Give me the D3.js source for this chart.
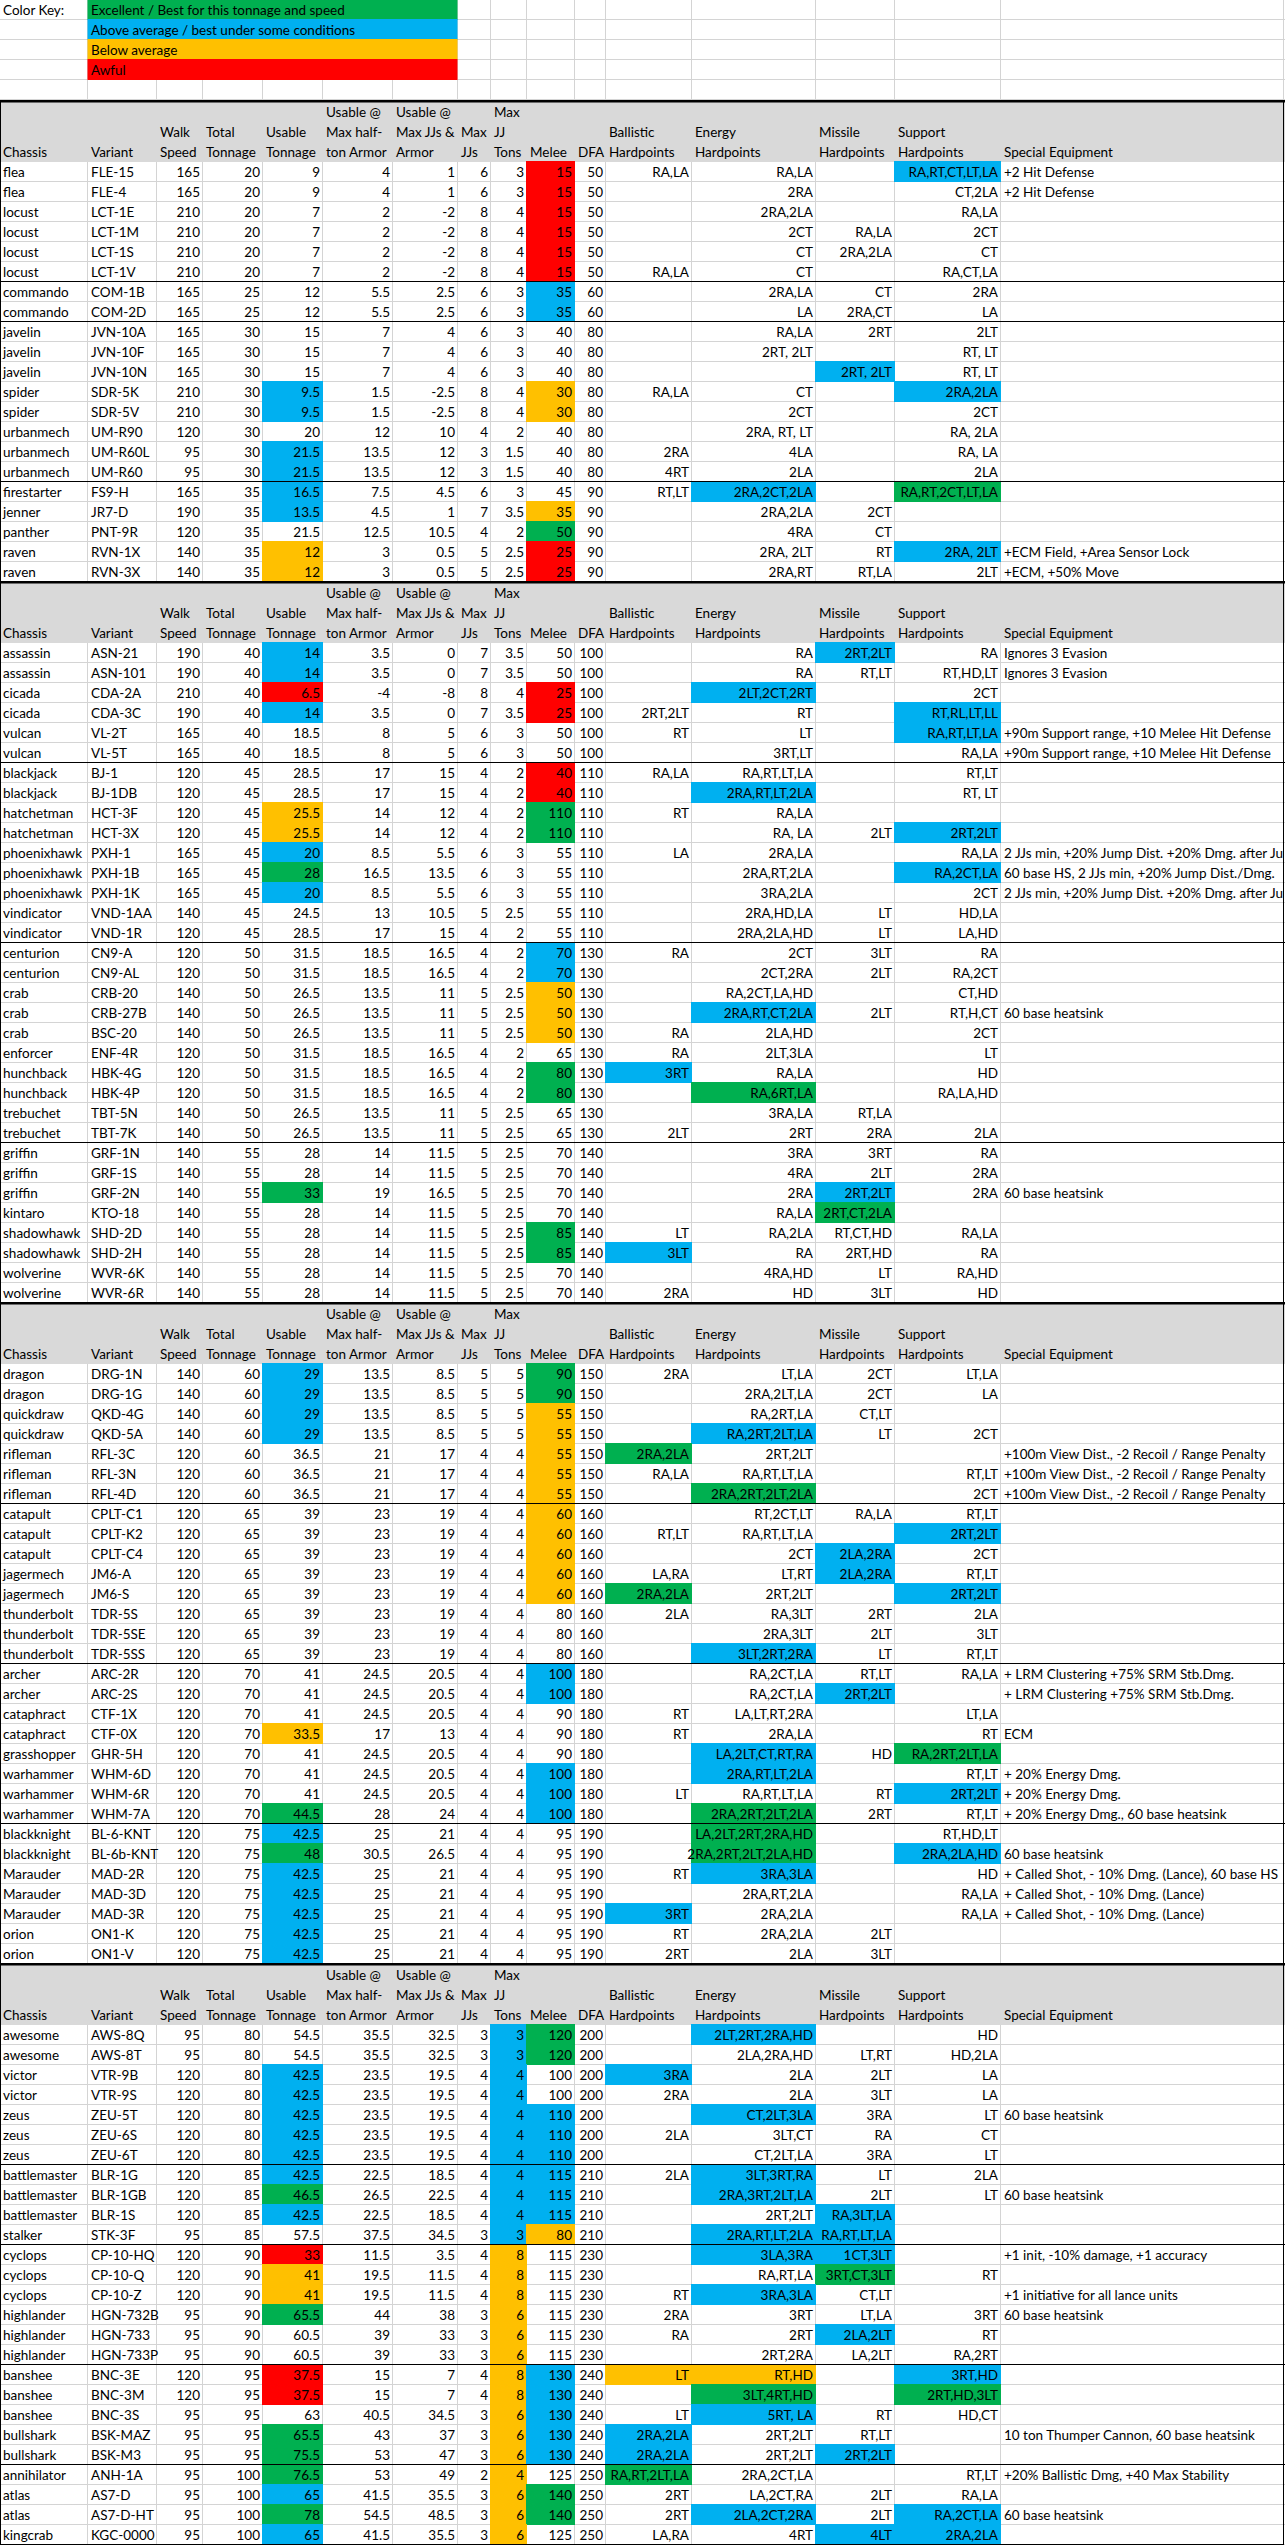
<!DOCTYPE html>
<html>
<head>
<meta charset="utf-8">
<script src="https://cdn.jsdelivr.net/npm/d3@7"></script>
<style>
  body { margin: 0; background: #fff; }
  svg text { font-family: Lato, "Liberation Sans", sans-serif; font-size: 13.5px; fill: #000; }
</style>
</head>
<body>
<div id="sheet"></div>
<script>
// colour key
const keyLevels = ["best", "above", "below", "awful"];
const keyLabels = ["Excellent / Best for this tonnage and speed", "Above average / best under some conditions", "Below average", "Awful"];

// header text, one entry per column, split into wrapped lines
const headerLabels = [
  ["Chassis"], ["Variant"], ["Walk", "Speed"], ["Total", "Tonnage"], ["Usable", "Tonnage"],
  ["Usable @", "Max half-", "ton Armor"], ["Usable @", "Max JJs &", "Armor"], ["Max", "JJs"], ["Max", "JJ", "Tons"],
  ["Melee"], ["DFA"], ["Ballistic", "Hardpoints"], ["Energy", "Hardpoints"], ["Missile", "Hardpoints"],
  ["Support", "Hardpoints"], ["Special Equipment"]
];

// chassis, variant, walk, total t, usable t, usable@armor, usable@JJ&armor, max JJs, JJ tons, melee, DFA,
// ballistic, energy, missile, support, special
const lightMechs = [
  ["flea", "FLE-15", 165, 20, 9, 4, 1, 6, 3, 15, 50, "RA,LA", "RA,LA", "", "RA,RT,CT,LT,LA", "+2 Hit Defense"],
  ["flea", "FLE-4", 165, 20, 9, 4, 1, 6, 3, 15, 50, "", "2RA", "", "CT,2LA", "+2 Hit Defense"],
  ["locust", "LCT-1E", 210, 20, 7, 2, -2, 8, 4, 15, 50, "", "2RA,2LA", "", "RA,LA", ""],
  ["locust", "LCT-1M", 210, 20, 7, 2, -2, 8, 4, 15, 50, "", "2CT", "RA,LA", "2CT", ""],
  ["locust", "LCT-1S", 210, 20, 7, 2, -2, 8, 4, 15, 50, "", "CT", "2RA,2LA", "CT", ""],
  ["locust", "LCT-1V", 210, 20, 7, 2, -2, 8, 4, 15, 50, "RA,LA", "CT", "", "RA,CT,LA", ""],
  ["commando", "COM-1B", 165, 25, 12, 5.5, 2.5, 6, 3, 35, 60, "", "2RA,LA", "CT", "2RA", ""],
  ["commando", "COM-2D", 165, 25, 12, 5.5, 2.5, 6, 3, 35, 60, "", "LA", "2RA,CT", "LA", ""],
  ["javelin", "JVN-10A", 165, 30, 15, 7, 4, 6, 3, 40, 80, "", "RA,LA", "2RT", "2LT", ""],
  ["javelin", "JVN-10F", 165, 30, 15, 7, 4, 6, 3, 40, 80, "", "2RT, 2LT", "", "RT, LT", ""],
  ["javelin", "JVN-10N", 165, 30, 15, 7, 4, 6, 3, 40, 80, "", "", "2RT, 2LT", "RT, LT", ""],
  ["spider", "SDR-5K", 210, 30, 9.5, 1.5, -2.5, 8, 4, 30, 80, "RA,LA", "CT", "", "2RA,2LA", ""],
  ["spider", "SDR-5V", 210, 30, 9.5, 1.5, -2.5, 8, 4, 30, 80, "", "2CT", "", "2CT", ""],
  ["urbanmech", "UM-R90", 120, 30, 20, 12, 10, 4, 2, 40, 80, "", "2RA, RT, LT", "", "RA, 2LA", ""],
  ["urbanmech", "UM-R60L", 95, 30, 21.5, 13.5, 12, 3, 1.5, 40, 80, "2RA", "4LA", "", "RA, LA", ""],
  ["urbanmech", "UM-R60", 95, 30, 21.5, 13.5, 12, 3, 1.5, 40, 80, "4RT", "2LA", "", "2LA", ""],
  ["firestarter", "FS9-H", 165, 35, 16.5, 7.5, 4.5, 6, 3, 45, 90, "RT,LT", "2RA,2CT,2LA", "", "RA,RT,2CT,LT,LA", ""],
  ["jenner", "JR7-D", 190, 35, 13.5, 4.5, 1, 7, 3.5, 35, 90, "", "2RA,2LA", "2CT", "", ""],
  ["panther", "PNT-9R", 120, 35, 21.5, 12.5, 10.5, 4, 2, 50, 90, "", "4RA", "CT", "", ""],
  ["raven", "RVN-1X", 140, 35, 12, 3, 0.5, 5, 2.5, 25, 90, "", "2RA, 2LT", "RT", "2RA, 2LT", "+ECM Field, +Area Sensor Lock"],
  ["raven", "RVN-3X", 140, 35, 12, 3, 0.5, 5, 2.5, 25, 90, "", "2RA,RT", "RT,LA", "2LT", "+ECM, +50% Move"]
];

const mediumMechs = [
  ["assassin", "ASN-21", 190, 40, 14, 3.5, 0, 7, 3.5, 50, 100, "", "RA", "2RT,2LT", "RA", "Ignores 3 Evasion"],
  ["assassin", "ASN-101", 190, 40, 14, 3.5, 0, 7, 3.5, 50, 100, "", "RA", "RT,LT", "RT,HD,LT", "Ignores 3 Evasion"],
  ["cicada", "CDA-2A", 210, 40, 6.5, -4, -8, 8, 4, 25, 100, "", "2LT,2CT,2RT", "", "2CT", ""],
  ["cicada", "CDA-3C", 190, 40, 14, 3.5, 0, 7, 3.5, 25, 100, "2RT,2LT", "RT", "", "RT,RL,LT,LL", ""],
  ["vulcan", "VL-2T", 165, 40, 18.5, 8, 5, 6, 3, 50, 100, "RT", "LT", "", "RA,RT,LT,LA", "+90m Support range, +10 Melee Hit Defense"],
  ["vulcan", "VL-5T", 165, 40, 18.5, 8, 5, 6, 3, 50, 100, "", "3RT,LT", "", "RA,LA", "+90m Support range, +10 Melee Hit Defense"],
  ["blackjack", "BJ-1", 120, 45, 28.5, 17, 15, 4, 2, 40, 110, "RA,LA", "RA,RT,LT,LA", "", "RT,LT", ""],
  ["blackjack", "BJ-1DB", 120, 45, 28.5, 17, 15, 4, 2, 40, 110, "", "2RA,RT,LT,2LA", "", "RT, LT", ""],
  ["hatchetman", "HCT-3F", 120, 45, 25.5, 14, 12, 4, 2, 110, 110, "RT", "RA,LA", "", "", ""],
  ["hatchetman", "HCT-3X", 120, 45, 25.5, 14, 12, 4, 2, 110, 110, "", "RA, LA", "2LT", "2RT,2LT", ""],
  ["phoenixhawk", "PXH-1", 165, 45, 20, 8.5, 5.5, 6, 3, 55, 110, "LA", "2RA,LA", "", "RA,LA", "2 JJs min, +20% Jump Dist. +20% Dmg. after Jump"],
  ["phoenixhawk", "PXH-1B", 165, 45, 28, 16.5, 13.5, 6, 3, 55, 110, "", "2RA,RT,2LA", "", "RA,2CT,LA", "60 base HS, 2 JJs min, +20% Jump Dist./Dmg."],
  ["phoenixhawk", "PXH-1K", 165, 45, 20, 8.5, 5.5, 6, 3, 55, 110, "", "3RA,2LA", "", "2CT", "2 JJs min, +20% Jump Dist. +20% Dmg. after Jump"],
  ["vindicator", "VND-1AA", 140, 45, 24.5, 13, 10.5, 5, 2.5, 55, 110, "", "2RA,HD,LA", "LT", "HD,LA", ""],
  ["vindicator", "VND-1R", 120, 45, 28.5, 17, 15, 4, 2, 55, 110, "", "2RA,2LA,HD", "LT", "LA,HD", ""],
  ["centurion", "CN9-A", 120, 50, 31.5, 18.5, 16.5, 4, 2, 70, 130, "RA", "2CT", "3LT", "RA", ""],
  ["centurion", "CN9-AL", 120, 50, 31.5, 18.5, 16.5, 4, 2, 70, 130, "", "2CT,2RA", "2LT", "RA,2CT", ""],
  ["crab", "CRB-20", 140, 50, 26.5, 13.5, 11, 5, 2.5, 50, 130, "", "RA,2CT,LA,HD", "", "CT,HD", ""],
  ["crab", "CRB-27B", 140, 50, 26.5, 13.5, 11, 5, 2.5, 50, 130, "", "2RA,RT,CT,2LA", "2LT", "RT,H,CT", "60 base heatsink"],
  ["crab", "BSC-20", 140, 50, 26.5, 13.5, 11, 5, 2.5, 50, 130, "RA", "2LA,HD", "", "2CT", ""],
  ["enforcer", "ENF-4R", 120, 50, 31.5, 18.5, 16.5, 4, 2, 65, 130, "RA", "2LT,3LA", "", "LT", ""],
  ["hunchback", "HBK-4G", 120, 50, 31.5, 18.5, 16.5, 4, 2, 80, 130, "3RT", "RA,LA", "", "HD", ""],
  ["hunchback", "HBK-4P", 120, 50, 31.5, 18.5, 16.5, 4, 2, 80, 130, "", "RA,6RT,LA", "", "RA,LA,HD", ""],
  ["trebuchet", "TBT-5N", 140, 50, 26.5, 13.5, 11, 5, 2.5, 65, 130, "", "3RA,LA", "RT,LA", "", ""],
  ["trebuchet", "TBT-7K", 140, 50, 26.5, 13.5, 11, 5, 2.5, 65, 130, "2LT", "2RT", "2RA", "2LA", ""],
  ["griffin", "GRF-1N", 140, 55, 28, 14, 11.5, 5, 2.5, 70, 140, "", "3RA", "3RT", "RA", ""],
  ["griffin", "GRF-1S", 140, 55, 28, 14, 11.5, 5, 2.5, 70, 140, "", "4RA", "2LT", "2RA", ""],
  ["griffin", "GRF-2N", 140, 55, 33, 19, 16.5, 5, 2.5, 70, 140, "", "2RA", "2RT,2LT", "2RA", "60 base heatsink"],
  ["kintaro", "KTO-18", 140, 55, 28, 14, 11.5, 5, 2.5, 70, 140, "", "RA,LA", "2RT,CT,2LA", "", ""],
  ["shadowhawk", "SHD-2D", 140, 55, 28, 14, 11.5, 5, 2.5, 85, 140, "LT", "RA,2LA", "RT,CT,HD", "RA,LA", ""],
  ["shadowhawk", "SHD-2H", 140, 55, 28, 14, 11.5, 5, 2.5, 85, 140, "3LT", "RA", "2RT,HD", "RA", ""],
  ["wolverine", "WVR-6K", 140, 55, 28, 14, 11.5, 5, 2.5, 70, 140, "", "4RA,HD", "LT", "RA,HD", ""],
  ["wolverine", "WVR-6R", 140, 55, 28, 14, 11.5, 5, 2.5, 70, 140, "2RA", "HD", "3LT", "HD", ""]
];

const heavyMechs = [
  ["dragon", "DRG-1N", 140, 60, 29, 13.5, 8.5, 5, 5, 90, 150, "2RA", "LT,LA", "2CT", "LT,LA", ""],
  ["dragon", "DRG-1G", 140, 60, 29, 13.5, 8.5, 5, 5, 90, 150, "", "2RA,2LT,LA", "2CT", "LA", ""],
  ["quickdraw", "QKD-4G", 140, 60, 29, 13.5, 8.5, 5, 5, 55, 150, "", "RA,2RT,LA", "CT,LT", "", ""],
  ["quickdraw", "QKD-5A", 140, 60, 29, 13.5, 8.5, 5, 5, 55, 150, "", "RA,2RT,2LT,LA", "LT", "2CT", ""],
  ["rifleman", "RFL-3C", 120, 60, 36.5, 21, 17, 4, 4, 55, 150, "2RA,2LA", "2RT,2LT", "", "", "+100m View Dist., -2 Recoil / Range Penalty"],
  ["rifleman", "RFL-3N", 120, 60, 36.5, 21, 17, 4, 4, 55, 150, "RA,LA", "RA,RT,LT,LA", "", "RT,LT", "+100m View Dist., -2 Recoil / Range Penalty"],
  ["rifleman", "RFL-4D", 120, 60, 36.5, 21, 17, 4, 4, 55, 150, "", "2RA,2RT,2LT,2LA", "", "2CT", "+100m View Dist., -2 Recoil / Range Penalty"],
  ["catapult", "CPLT-C1", 120, 65, 39, 23, 19, 4, 4, 60, 160, "", "RT,2CT,LT", "RA,LA", "RT,LT", ""],
  ["catapult", "CPLT-K2", 120, 65, 39, 23, 19, 4, 4, 60, 160, "RT,LT", "RA,RT,LT,LA", "", "2RT,2LT", ""],
  ["catapult", "CPLT-C4", 120, 65, 39, 23, 19, 4, 4, 60, 160, "", "2CT", "2LA,2RA", "2CT", ""],
  ["jagermech", "JM6-A", 120, 65, 39, 23, 19, 4, 4, 60, 160, "LA,RA", "LT,RT", "2LA,2RA", "RT,LT", ""],
  ["jagermech", "JM6-S", 120, 65, 39, 23, 19, 4, 4, 60, 160, "2RA,2LA", "2RT,2LT", "", "2RT,2LT", ""],
  ["thunderbolt", "TDR-5S", 120, 65, 39, 23, 19, 4, 4, 80, 160, "2LA", "RA,3LT", "2RT", "2LA", ""],
  ["thunderbolt", "TDR-5SE", 120, 65, 39, 23, 19, 4, 4, 80, 160, "", "2RA,3LT", "2LT", "3LT", ""],
  ["thunderbolt", "TDR-5SS", 120, 65, 39, 23, 19, 4, 4, 80, 160, "", "3LT,2RT,2RA", "LT", "RT,LT", ""],
  ["archer", "ARC-2R", 120, 70, 41, 24.5, 20.5, 4, 4, 100, 180, "", "RA,2CT,LA", "RT,LT", "RA,LA", "+ LRM Clustering +75% SRM Stb.Dmg."],
  ["archer", "ARC-2S", 120, 70, 41, 24.5, 20.5, 4, 4, 100, 180, "", "RA,2CT,LA", "2RT,2LT", "", "+ LRM Clustering +75% SRM Stb.Dmg."],
  ["cataphract", "CTF-1X", 120, 70, 41, 24.5, 20.5, 4, 4, 90, 180, "RT", "LA,LT,RT,2RA", "", "LT,LA", ""],
  ["cataphract", "CTF-0X", 120, 70, 33.5, 17, 13, 4, 4, 90, 180, "RT", "2RA,LA", "", "RT", "ECM"],
  ["grasshopper", "GHR-5H", 120, 70, 41, 24.5, 20.5, 4, 4, 90, 180, "", "LA,2LT,CT,RT,RA", "HD", "RA,2RT,2LT,LA", ""],
  ["warhammer", "WHM-6D", 120, 70, 41, 24.5, 20.5, 4, 4, 100, 180, "", "2RA,RT,LT,2LA", "", "RT,LT", "+ 20% Energy Dmg."],
  ["warhammer", "WHM-6R", 120, 70, 41, 24.5, 20.5, 4, 4, 100, 180, "LT", "RA,RT,LT,LA", "RT", "2RT,2LT", "+ 20% Energy Dmg."],
  ["warhammer", "WHM-7A", 120, 70, 44.5, 28, 24, 4, 4, 100, 180, "", "2RA,2RT,2LT,2LA", "2RT", "RT,LT", "+ 20% Energy Dmg., 60 base heatsink"],
  ["blackknight", "BL-6-KNT", 120, 75, 42.5, 25, 21, 4, 4, 95, 190, "", "LA,2LT,2RT,2RA,HD", "", "RT,HD,LT", ""],
  ["blackknight", "BL-6b-KNT", 120, 75, 48, 30.5, 26.5, 4, 4, 95, 190, "", "2RA,2RT,2LT,2LA,HD", "", "2RA,2LA,HD", "60 base heatsink"],
  ["Marauder", "MAD-2R", 120, 75, 42.5, 25, 21, 4, 4, 95, 190, "RT", "3RA,3LA", "", "HD", "+ Called Shot, - 10% Dmg. (Lance), 60 base HS"],
  ["Marauder", "MAD-3D", 120, 75, 42.5, 25, 21, 4, 4, 95, 190, "", "2RA,RT,2LA", "", "RA,LA", "+ Called Shot, - 10% Dmg. (Lance)"],
  ["Marauder", "MAD-3R", 120, 75, 42.5, 25, 21, 4, 4, 95, 190, "3RT", "2RA,2LA", "", "RA,LA", "+ Called Shot, - 10% Dmg. (Lance)"],
  ["orion", "ON1-K", 120, 75, 42.5, 25, 21, 4, 4, 95, 190, "RT", "2RA,2LA", "2LT", "", ""],
  ["orion", "ON1-V", 120, 75, 42.5, 25, 21, 4, 4, 95, 190, "2RT", "2LA", "3LT", "", ""]
];

const assaultMechs = [
  ["awesome", "AWS-8Q", 95, 80, 54.5, 35.5, 32.5, 3, 3, 120, 200, "", "2LT,2RT,2RA,HD", "", "HD", ""],
  ["awesome", "AWS-8T", 95, 80, 54.5, 35.5, 32.5, 3, 3, 120, 200, "", "2LA,2RA,HD", "LT,RT", "HD,2LA", ""],
  ["victor", "VTR-9B", 120, 80, 42.5, 23.5, 19.5, 4, 4, 100, 200, "3RA", "2LA", "2LT", "LA", ""],
  ["victor", "VTR-9S", 120, 80, 42.5, 23.5, 19.5, 4, 4, 100, 200, "2RA", "2LA", "3LT", "LA", ""],
  ["zeus", "ZEU-5T", 120, 80, 42.5, 23.5, 19.5, 4, 4, 110, 200, "", "CT,2LT,3LA", "3RA", "LT", "60 base heatsink"],
  ["zeus", "ZEU-6S", 120, 80, 42.5, 23.5, 19.5, 4, 4, 110, 200, "2LA", "3LT,CT", "RA", "CT", ""],
  ["zeus", "ZEU-6T", 120, 80, 42.5, 23.5, 19.5, 4, 4, 110, 200, "", "CT,2LT,LA", "3RA", "LT", ""],
  ["battlemaster", "BLR-1G", 120, 85, 42.5, 22.5, 18.5, 4, 4, 115, 210, "2LA", "3LT,3RT,RA", "LT", "2LA", ""],
  ["battlemaster", "BLR-1GB", 120, 85, 46.5, 26.5, 22.5, 4, 4, 115, 210, "", "2RA,3RT,2LT,LA", "2LT", "LT", "60 base heatsink"],
  ["battlemaster", "BLR-1S", 120, 85, 42.5, 22.5, 18.5, 4, 4, 115, 210, "", "2RT,2LT", "RA,3LT,LA", "", ""],
  ["stalker", "STK-3F", 95, 85, 57.5, 37.5, 34.5, 3, 3, 80, 210, "", "2RA,RT,LT,2LA", "RA,RT,LT,LA", "", ""],
  ["cyclops", "CP-10-HQ", 120, 90, 33, 11.5, 3.5, 4, 8, 115, 230, "", "3LA,3RA", "1CT,3LT", "", "+1 init, -10% damage, +1 accuracy"],
  ["cyclops", "CP-10-Q", 120, 90, 41, 19.5, 11.5, 4, 8, 115, 230, "", "RA,RT,LA", "3RT,CT,3LT", "RT", ""],
  ["cyclops", "CP-10-Z", 120, 90, 41, 19.5, 11.5, 4, 8, 115, 230, "RT", "3RA,3LA", "CT,LT", "", "+1 initiative for all lance units"],
  ["highlander", "HGN-732B", 95, 90, 65.5, 44, 38, 3, 6, 115, 230, "2RA", "3RT", "LT,LA", "3RT", "60 base heatsink"],
  ["highlander", "HGN-733", 95, 90, 60.5, 39, 33, 3, 6, 115, 230, "RA", "2RT", "2LA,2LT", "RT", ""],
  ["highlander", "HGN-733P", 95, 90, 60.5, 39, 33, 3, 6, 115, 230, "", "2RT,2RA", "LA,2LT", "RA,2RT", ""],
  ["banshee", "BNC-3E", 120, 95, 37.5, 15, 7, 4, 8, 130, 240, "LT", "RT,HD", "", "3RT,HD", ""],
  ["banshee", "BNC-3M", 120, 95, 37.5, 15, 7, 4, 8, 130, 240, "", "3LT,4RT,HD", "", "2RT,HD,3LT", ""],
  ["banshee", "BNC-3S", 95, 95, 63, 40.5, 34.5, 3, 6, 130, 240, "LT", "5RT, LA", "RT", "HD,CT", ""],
  ["bullshark", "BSK-MAZ", 95, 95, 65.5, 43, 37, 3, 6, 130, 240, "2RA,2LA", "2RT,2LT", "RT,LT", "", "10 ton Thumper Cannon, 60 base heatsink"],
  ["bullshark", "BSK-M3", 95, 95, 75.5, 53, 47, 3, 6, 130, 240, "2RA,2LA", "2RT,2LT", "2RT,2LT", "", ""],
  ["annihilator", "ANH-1A", 95, 100, 76.5, 53, 49, 2, 4, 125, 250, "RA,RT,2LT,LA", "2RA,2CT,LA", "", "RT,LT", "+20% Ballistic Dmg, +40 Max Stability"],
  ["atlas", "AS7-D", 95, 100, 65, 41.5, 35.5, 3, 6, 140, 250, "2RT", "LA,2CT,RA", "2LT", "RA,LA", ""],
  ["atlas", "AS7-D-HT", 95, 100, 78, 54.5, 48.5, 3, 6, 140, 250, "2RT", "2LA,2CT,2RA", "2LT", "RA,2CT,LA", "60 base heatsink"],
  ["kingcrab", "KGC-0000", 95, 100, 65, 41.5, 35.5, 3, 6, 125, 250, "LA,RA", "4RT", "4LT", "2RA,2LA", ""]
];

// rating of individual cells, by variant
const ratings = {
  "FLE-15": {melee: "awful", support: "above"},
  "FLE-4": {melee: "awful"},
  "LCT-1E": {melee: "awful"}, "LCT-1M": {melee: "awful"}, "LCT-1S": {melee: "awful"}, "LCT-1V": {melee: "awful"},
  "COM-1B": {melee: "above"}, "COM-2D": {melee: "above"},
  "JVN-10N": {missile: "above"},
  "SDR-5K": {usable: "above", melee: "below", support: "above"},
  "SDR-5V": {usable: "above", melee: "below"},
  "UM-R60L": {usable: "above"}, "UM-R60": {usable: "above"},
  "FS9-H": {usable: "above", energy: "above", support: "best"},
  "JR7-D": {usable: "above", melee: "below"},
  "PNT-9R": {melee: "best"},
  "RVN-1X": {usable: "below", melee: "awful", support: "above"},
  "RVN-3X": {usable: "below", melee: "awful"},
  "ASN-21": {usable: "above", missile: "above"},
  "ASN-101": {usable: "above"},
  "CDA-2A": {usable: "awful", melee: "awful", energy: "above"},
  "CDA-3C": {usable: "above", melee: "awful", support: "above"},
  "VL-2T": {support: "above"},
  "BJ-1": {melee: "awful"},
  "BJ-1DB": {melee: "awful", energy: "above"},
  "HCT-3F": {usable: "below", melee: "best"},
  "HCT-3X": {usable: "below", melee: "best", support: "above"},
  "PXH-1": {usable: "above"},
  "PXH-1B": {usable: "best", support: "above"},
  "PXH-1K": {usable: "above"},
  "CN9-A": {melee: "above"}, "CN9-AL": {melee: "above"},
  "CRB-20": {melee: "below"}, "BSC-20": {melee: "below"},
  "CRB-27B": {melee: "below", energy: "above"},
  "HBK-4G": {melee: "best", ballistic: "above"},
  "HBK-4P": {melee: "best", energy: "best"},
  "GRF-2N": {usable: "best", missile: "above"},
  "KTO-18": {missile: "best"},
  "SHD-2D": {melee: "best"},
  "SHD-2H": {melee: "best", ballistic: "above"},
  "DRG-1N": {usable: "above", melee: "best"}, "DRG-1G": {usable: "above", melee: "best"},
  "QKD-4G": {usable: "above", melee: "below"},
  "QKD-5A": {usable: "above", melee: "below", energy: "above"},
  "RFL-3C": {melee: "below", ballistic: "best"},
  "RFL-3N": {melee: "below"},
  "RFL-4D": {melee: "below", energy: "best"},
  "CPLT-C1": {melee: "below"},
  "CPLT-K2": {melee: "below", support: "above"},
  "CPLT-C4": {melee: "below", missile: "above"},
  "JM6-A": {melee: "below", missile: "above"},
  "JM6-S": {melee: "below", ballistic: "best", support: "above"},
  "TDR-5SS": {energy: "above"},
  "ARC-2R": {melee: "above"},
  "ARC-2S": {melee: "above", missile: "above"},
  "CTF-0X": {usable: "below"},
  "GHR-5H": {energy: "above", support: "best"},
  "WHM-6D": {melee: "above", energy: "above"},
  "WHM-6R": {melee: "above", support: "above"},
  "WHM-7A": {usable: "best", melee: "above", energy: "best"},
  "BL-6-KNT": {usable: "above", energy: "best"},
  "BL-6b-KNT": {usable: "best", energy: "best", support: "above"},
  "MAD-2R": {usable: "above", energy: "above"},
  "MAD-3D": {usable: "above"},
  "MAD-3R": {usable: "above", ballistic: "above"},
  "ON1-K": {usable: "above"}, "ON1-V": {usable: "above"},
  "AWS-8Q": {jjTons: "above", melee: "best", energy: "above"},
  "AWS-8T": {jjTons: "above", melee: "best"},
  "VTR-9B": {usable: "above", jjTons: "above", ballistic: "above"},
  "VTR-9S": {usable: "above", jjTons: "above"},
  "ZEU-5T": {usable: "above", jjTons: "above", melee: "above", energy: "above"},
  "ZEU-6S": {usable: "above", jjTons: "above", melee: "above"},
  "ZEU-6T": {usable: "above", jjTons: "above", melee: "above"},
  "BLR-1G": {usable: "above", jjTons: "above", melee: "above", energy: "above"},
  "BLR-1GB": {usable: "best", jjTons: "above", melee: "above", energy: "above"},
  "BLR-1S": {usable: "above", jjTons: "above", melee: "above", missile: "above"},
  "STK-3F": {jjTons: "above", melee: "below", energy: "above", missile: "above"},
  "CP-10-HQ": {usable: "awful", jjTons: "below", energy: "above", missile: "above"},
  "CP-10-Q": {usable: "below", jjTons: "below", missile: "best"},
  "CP-10-Z": {usable: "below", jjTons: "below", energy: "above"},
  "HGN-732B": {usable: "best", jjTons: "below"},
  "HGN-733": {jjTons: "below", missile: "above"},
  "HGN-733P": {jjTons: "below"},
  "BNC-3E": {usable: "awful", jjTons: "below", melee: "above", ballistic: "below", energy: "below", support: "above"},
  "BNC-3M": {usable: "awful", jjTons: "below", melee: "above", energy: "best", support: "best"},
  "BNC-3S": {jjTons: "below", melee: "above", energy: "above"},
  "BSK-MAZ": {usable: "best", jjTons: "below", melee: "above", ballistic: "above"},
  "BSK-M3": {usable: "best", jjTons: "below", melee: "above", ballistic: "above", missile: "above"},
  "ANH-1A": {usable: "best", jjTons: "below", ballistic: "best"},
  "AS7-D": {usable: "above", jjTons: "below", melee: "best"},
  "AS7-D-HT": {usable: "best", jjTons: "below", melee: "best", energy: "above", support: "above"},
  "KGC-0000": {usable: "above", jjTons: "below", missile: "above", support: "above"}
};

// ---- layout ----
const W = 1285, H = 2545;
const rowH = 20, headerH = 61, tableTop = 101;
const gridColor = "#d4d4d4", headerFill = "#d9d9d9";

const colKeys = ["chassis", "variant", "walk", "total", "usable", "armor", "jjArmor", "jjs", "jjTons",
  "melee", "dfa", "ballistic", "energy", "missile", "support", "special"];
const colEdges = [0, 88, 157, 203, 263, 323, 393, 458, 491, 527, 575, 606, 692, 816, 895, 1001, 1284];
const leftAligned = new Set(["chassis", "variant", "special"]);

const xLeft = d3.scaleOrdinal(colKeys, colEdges.slice(0, -1));
const xRight = d3.scaleOrdinal(colKeys, colEdges.slice(1));
const levelColor = d3.scaleOrdinal(keyLevels, ["#00b050", "#00b0f0", "#ffc000", "#ff0000"]);

const toRecord = r => Object.fromEntries(colKeys.map((k, i) => [k, r[i]]));

let yCursor = tableTop;
const sections = [lightMechs, mediumMechs, heavyMechs, assaultMechs].map(rows => {
  let top = yCursor, dataTop = top + headerH;
  let y = d3.scaleBand()
    .domain(d3.range(rows.length))
    .range([dataTop, dataTop + rows.length * rowH]);
  yCursor = dataTop + rows.length * rowH;
  return {rows: rows.map(toRecord), top: top, dataTop: dataTop, bottom: yCursor, y: y};
});

let svg = d3.select("#sheet").append("svg")
  .attr("width", W)
  .attr("height", H);

svg.append("defs").append("clipPath")
  .attr("id", "clip-special")
  .append("rect")
  .attr("x", xLeft("special"))
  .attr("y", 0)
  .attr("width", xRight("special") - xLeft("special") - 1)
  .attr("height", H);

// ---- colour key block (top rows of the sheet) ----
let keyG = svg.append("g").attr("class", "color-key");
let keyY = d3.scaleBand().domain(d3.range(5)).range([0, 100]);

keyG.selectAll(".kh").data(d3.range(5))
  .enter().append("line")
  .attr("x1", 0).attr("x2", W)
  .attr("y1", d => keyY(d) + rowH - 0.5)
  .attr("y2", d => keyY(d) + rowH - 0.5)
  .attr("stroke", gridColor);

keyG.selectAll(".kv").data(colEdges.slice(1))
  .enter().append("line")
  .attr("x1", d => d - 0.5).attr("x2", d => d - 0.5)
  .attr("y1", 0).attr("y2", 100)
  .attr("stroke", gridColor);

keyG.selectAll(".key-cell").data(keyLevels)
  .enter().append("rect")
  .attr("x", xLeft("variant") - 0.5)
  .attr("y", (d, i) => keyY(i) - (i ? 1 : 0))
  .attr("width", xRight("jjArmor") - xLeft("variant"))
  .attr("height", (d, i) => rowH + (i ? 1 : 0))
  .attr("fill", d => levelColor(d));

keyG.selectAll(".key-label").data(keyLabels)
  .enter().append("text")
  .attr("x", xLeft("variant") + 3)
  .attr("y", (d, i) => keyY(i) + 15)
  .text(d => d);

keyG.append("text")
  .attr("x", 3)
  .attr("y", 15)
  .text("Color Key:");

// ---- sections ----
sections.forEach(sec => {
  let g = svg.append("g").attr("class", "section");
  let rows = sec.rows;

  g.append("rect")
    .attr("x", 0).attr("y", sec.top)
    .attr("width", W).attr("height", sec.dataTop - sec.top)
    .attr("fill", headerFill);

  // gridlines
  g.selectAll(".hgrid").data(rows)
    .enter().append("line")
    .attr("x1", 0).attr("x2", W)
    .attr("y1", (d, i) => sec.y(i) + rowH - 0.5)
    .attr("y2", (d, i) => sec.y(i) + rowH - 0.5)
    .attr("stroke", gridColor);

  g.selectAll(".vgrid").data(colEdges.slice(1, -1))
    .enter().append("line")
    .attr("x1", d => d - 0.5).attr("x2", d => d - 0.5)
    .attr("y1", sec.dataTop).attr("y2", sec.bottom)
    .attr("stroke", gridColor);

  // rated cells
  let cells = [];
  rows.forEach((r, i) => {
    let rt = ratings[r.variant] || {};
    Object.keys(rt).forEach(k => cells.push({row: i, key: k, level: rt[k]}));
  });

  g.selectAll(".cell").data(cells)
    .enter().append("rect")
    .attr("class", "cell")
    .attr("x", d => xLeft(d.key) - 1)
    .attr("y", d => sec.y(d.row) - 1)
    .attr("width", d => xRight(d.key) - xLeft(d.key) + 1)
    .attr("height", rowH + 1)
    .attr("fill", d => levelColor(d.level));

  // black rule wherever the tonnage changes
  let breaks = rows.map((r, i) => i).filter(i => i < rows.length - 1 && rows[i].total !== rows[i + 1].total);
  g.selectAll(".tonnage-rule").data(breaks)
    .enter().append("line")
    .attr("x1", 0).attr("x2", W)
    .attr("y1", i => sec.y(i) + rowH - 0.5)
    .attr("y2", i => sec.y(i) + rowH - 0.5)
    .attr("stroke", "#000");

  // thick rule above header
  g.append("rect")
    .attr("x", 0).attr("y", sec.top - 1)
    .attr("width", W).attr("height", 2.5)
    .attr("fill", "#000");

  // header text
  colKeys.forEach((k, ci) => {
    let lines = headerLabels[ci];
    g.selectAll(null).data(lines)
      .enter().append("text")
      .attr("x", xLeft(k) + 3)
      .attr("y", (d, j) => sec.dataTop - 5 - (lines.length - 1 - j) * rowH)
      .text(d => d);
  });

  // body text
  colKeys.forEach(k => {
    let left = leftAligned.has(k);
    g.selectAll(null).data(rows.filter(r => r[k] !== ""))
      .enter().append("text")
      .attr("x", left ? xLeft(k) + 3 : xRight(k) - 3)
      .attr("y", r => sec.y(rows.indexOf(r)) + 15)
      .attr("text-anchor", left ? "start" : "end")
      .attr("clip-path", k === "special" ? "url(#clip-special)" : null)
      .text(r => String(r[k]));
  });
});

// outer border of the table
let lastBottom = sections[sections.length - 1].bottom;
svg.append("line")
  .attr("x1", 0.5).attr("x2", 0.5)
  .attr("y1", tableTop - 1).attr("y2", lastBottom)
  .attr("stroke", "#000");
svg.append("line")
  .attr("x1", W - 1.5).attr("x2", W - 1.5)
  .attr("y1", tableTop - 1).attr("y2", lastBottom)
  .attr("stroke", "#000");
svg.append("line")
  .attr("x1", 0).attr("x2", W - 1)
  .attr("y1", lastBottom - 0.5).attr("y2", lastBottom - 0.5)
  .attr("stroke", "#000");
</script>
</body>
</html>
